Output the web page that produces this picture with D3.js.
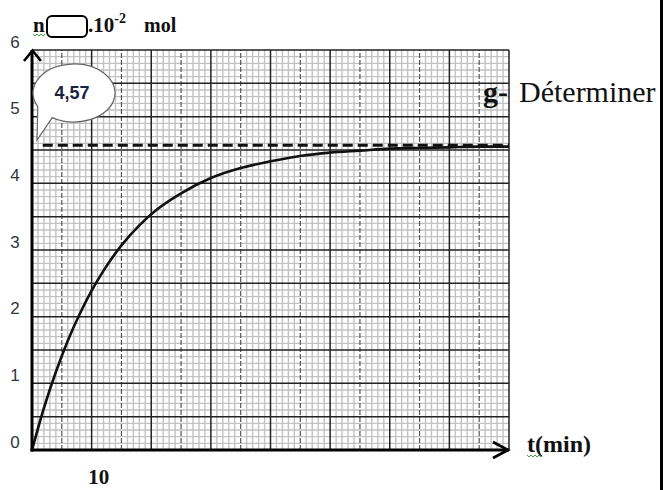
<!DOCTYPE html>
<html>
<head>
<meta charset="utf-8">
<script src="https://cdn.jsdelivr.net/npm/d3@7"></script>
<style>
  body { margin: 0; background: #fff; }
  svg { display: block; }
</style>
</head>
<body>
<svg id="chart" width="663" height="490"></svg>
<script>
// values
const tMin = [0, 2, 4, 6, 8, 10, 12, 15, 18, 21, 25, 30, 35, 40, 45, 50, 55, 60, 65, 70, 75, 80];
const nVal = [0, 0.63, 1.17, 1.64, 2.04, 2.39, 2.69, 3.07, 3.37, 3.61, 3.85, 4.08, 4.23, 4.33, 4.41, 4.46, 4.49, 4.52, 4.53, 4.54, 4.55, 4.55];
const nFinal = 4.57;
const finalLabel = "4,57";
const yTickValues = [0, 1, 2, 3, 4, 5, 6];
const xTickLabels = [10];

const W = 663, H = 490;
const svg = d3.select("#chart");
svg.append("rect").attr("width", W).attr("height", H).attr("fill", "#fff");

const x = d3.scaleLinear().domain([0, 80]).range([32, 509]);
const y = d3.scaleLinear().domain([0, 6]).range([450, 50]);

const serif = "'Liberation Serif', 'Times New Roman', 'DejaVu Serif', serif";
const sans = "'Liberation Sans', Arial, 'DejaVu Sans', sans-serif";

// graph paper
const grid = svg.append("g");

grid.selectAll("line.vmin")
  .data(d3.range(1, 80).filter(t => t % 5 !== 0))
  .join("line")
  .attr("x1", d => x(d)).attr("x2", d => x(d))
  .attr("y1", y(0)).attr("y2", y(6))
  .attr("stroke", "#c2c2c2").attr("stroke-width", 1.4);

grid.selectAll("line.hmin")
  .data(d3.range(1, 60).filter(i => i % 5 !== 0))
  .join("line")
  .attr("x1", x(0)).attr("x2", x(80))
  .attr("y1", d => y(d / 10)).attr("y2", d => y(d / 10))
  .attr("stroke", "#c2c2c2").attr("stroke-width", 1.4);

// half-major verticals, dashed
grid.selectAll("line.vhalf")
  .data(d3.range(5, 80, 10))
  .join("line")
  .attr("x1", d => x(d)).attr("x2", d => x(d))
  .attr("y1", y(0)).attr("y2", y(6))
  .attr("stroke", "#555").attr("stroke-width", 1.2)
  .attr("stroke-dasharray", "5,2");

// major verticals
grid.selectAll("line.vmaj")
  .data(d3.range(10, 81, 10))
  .join("line")
  .attr("x1", d => x(d)).attr("x2", d => x(d))
  .attr("y1", y(0)).attr("y2", y(6))
  .attr("stroke", "#222").attr("stroke-width", 1.5);

// major horizontals every 0.5
grid.selectAll("line.hmaj")
  .data(d3.range(1, 13).map(i => i / 2))
  .join("line")
  .attr("x1", x(0)).attr("x2", x(80))
  .attr("y1", d => y(d)).attr("y2", d => y(d))
  .attr("stroke", "#222").attr("stroke-width", 1.5);

// asymptote
svg.append("line")
  .attr("x1", x(1.8)).attr("x2", x(80))
  .attr("y1", y(nFinal)).attr("y2", y(nFinal))
  .attr("stroke", "#111").attr("stroke-width", 3)
  .attr("stroke-dasharray", "10,5");

// curve
const line = d3.line()
  .x((d, i) => x(tMin[i]))
  .y(d => y(d))
  .curve(d3.curveMonotoneX);

svg.append("path")
  .datum(nVal)
  .attr("d", line)
  .attr("fill", "none")
  .attr("stroke", "#111")
  .attr("stroke-width", 2.6);

// axes with arrows
const axes = svg.append("g").attr("stroke", "#000").attr("fill", "none");
axes.append("line")
  .attr("x1", x(0)).attr("x2", x(0))
  .attr("y1", y(0) + 1.5).attr("y2", y(6))
  .attr("stroke-width", 3);
axes.append("line")
  .attr("x1", x(0) - 1.5).attr("x2", x(80))
  .attr("y1", y(0)).attr("y2", y(0))
  .attr("stroke-width", 3);
axes.append("path")
  .attr("d", `M${x(0) - 8},${y(6) + 11} L${x(0) + 0.5},${y(6) + 0.5} L${x(0) + 9},${y(6) + 11}`)
  .attr("stroke-width", 2.6);
axes.append("path")
  .attr("d", `M${x(80) - 16},${y(0) - 8} L${x(80) - 1},${y(0)} L${x(80) - 16},${y(0) + 8}`)
  .attr("stroke-width", 2.6);

// y tick labels
svg.append("g").selectAll("text")
  .data(yTickValues)
  .join("text")
  .attr("x", 15)
  .attr("y", d => y(d) - 8)
  .attr("dominant-baseline", "central")
  .attr("text-anchor", "middle")
  .attr("font-family", sans)
  .attr("font-size", 17)
  .attr("fill", "#2f3540")
  .text(d => d);

// x tick label
svg.append("g").selectAll("text")
  .data(xTickLabels)
  .join("text")
  .attr("x", d => x(d) + 7)
  .attr("y", 484)
  .attr("text-anchor", "middle")
  .attr("font-family", serif)
  .attr("font-weight", "bold")
  .attr("font-size", 21)
  .attr("fill", "#111")
  .text(d => d);

// callout with the final value
const cx = 74, cy = 93, rx = 41, ry = 29;
const pt = a => [cx + rx * Math.cos(a * Math.PI / 180), cy + ry * Math.sin(a * Math.PI / 180)];
const [bx1, by1] = pt(122), [bx2, by2] = pt(152);
svg.append("path")
  .attr("d", `M${bx1},${by1} A${rx},${ry} 0 1 0 ${bx2},${by2} L37,140 Z`)
  .attr("fill", "#fff")
  .attr("stroke", "#666")
  .attr("stroke-width", 1.2);
svg.append("text")
  .attr("x", cx - 2).attr("y", cy + 6)
  .attr("text-anchor", "middle")
  .attr("font-family", sans)
  .attr("font-weight", "bold")
  .attr("font-size", 18)
  .attr("fill", "#1c2340")
  .text(finalLabel);

// y axis title: n [box] .10^-2 mol
const title = svg.append("g");
title.append("text")
  .attr("x", 33).attr("y", 32)
  .attr("font-family", serif).attr("font-weight", "bold")
  .attr("font-size", 21).attr("fill", "#111")
  .text("n");
title.append("rect")
  .attr("x", 47).attr("y", 16).attr("width", 40).attr("height", 21)
  .attr("rx", 5).attr("fill", "#fff").attr("stroke", "#000").attr("stroke-width", 2);
const unit = title.append("text")
  .attr("x", 88).attr("y", 32)
  .attr("font-family", serif).attr("font-weight", "bold")
  .attr("font-size", 21).attr("fill", "#111");
unit.append("tspan").text(".10");
unit.append("tspan").attr("font-size", 14).attr("dy", -9).text("-2");
unit.append("tspan").attr("x", 144).attr("dy", 9).attr("font-size", 20).text("mol");

// spell-check squiggles
const squiggle = (x0, y0, len) => {
  let d = `M${x0},${y0}`;
  for (let i = 0; i < len / 2; i++) d += ` l2,${i % 2 ? -2 : 2}`;
  return d;
};
svg.append("path").attr("d", squiggle(33, 34, 12))
  .attr("fill", "none").attr("stroke", "#3fa33f").attr("stroke-width", 1);
svg.append("path").attr("d", squiggle(527, 455, 14))
  .attr("fill", "none").attr("stroke", "#3fa33f").attr("stroke-width", 1);

// x axis title
svg.append("text")
  .attr("x", 527).attr("y", 452)
  .attr("font-family", serif).attr("font-weight", "bold")
  .attr("font-size", 24).attr("fill", "#111")
  .text("t(min)");

// surrounding document text, cut by the page edge
svg.append("clipPath").attr("id", "page")
  .append("rect").attr("x", 0).attr("y", 0).attr("width", 660).attr("height", H);
const doc = svg.append("text")
  .attr("clip-path", "url(#page)")
  .attr("x", 483).attr("y", 102)
  .attr("font-family", serif).attr("font-size", 30).attr("fill", "#111");
doc.append("tspan").attr("font-weight", "bold").text("g-");
doc.append("tspan").attr("x", 519).text("Déterminer");

svg.append("rect").attr("x", 660).attr("y", 0).attr("width", 3).attr("height", H).attr("fill", "#000");
</script>
</body>
</html>
